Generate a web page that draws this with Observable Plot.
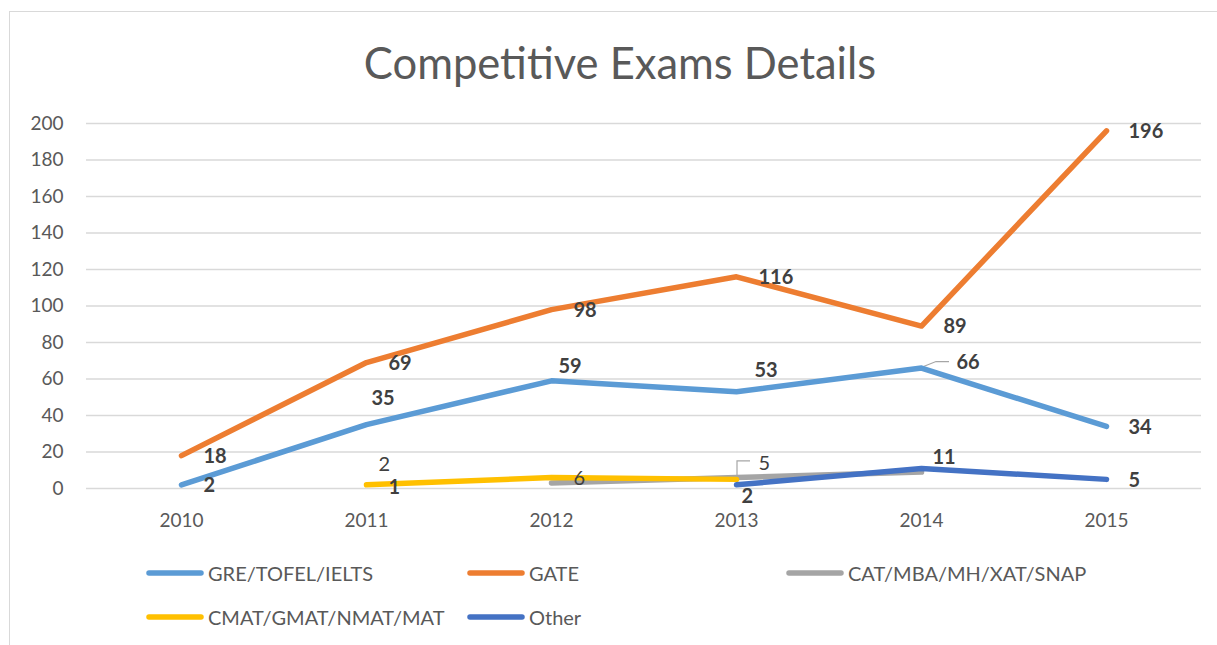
<!DOCTYPE html>
<html><head><meta charset="utf-8">
<script src="https://cdn.jsdelivr.net/npm/d3@7"></script>
<script src="https://cdn.jsdelivr.net/npm/@observablehq/plot@0.6"></script>
<style>
body{margin:0;background:#fff;font-family:Lato,"Open Sans",sans-serif;}
#wrap{position:relative;width:1217px;height:645px;overflow:hidden;background:#fff;}
#frame{position:absolute;left:9px;top:11px;width:1300px;height:700px;border:1.5px solid #d9d9d9;box-sizing:border-box;}
#title{position:absolute;top:35px;left:0;width:1240px;text-align:center;font-size:43.5px;color:#595959;line-height:54px;}
#chart{position:absolute;left:0;top:100px;}
.li{position:absolute;display:flex;align-items:center;font-size:20px;color:#595959;height:24px;white-space:nowrap;}
.li svg{margin-right:4px;}
</style></head><body>
<div id="wrap">
  <div id="frame"></div>
  <div id="title">Competitive Exams Details</div>
  <div id="chart"></div>
  <div id="legend"></div>
</div>
<script>
const years = ["2010", "2011", "2012", "2013", "2014", "2015"];
const seriesNames = ["GRE/TOFEL/IELTS", "GATE", "CAT/MBA/MH/XAT/SNAP", "CMAT/GMAT/NMAT/MAT", "Other"];
const seriesColors = ["#5B9BD5", "#ED7D31", "#A5A5A5", "#FFC000", "#4472C4"];
const greValues = [2, 35, 59, 53, 66, 34];
const gateValues = [18, 69, 98, 116, 89, 196];
const catValues = [null, null, 3, 6, 9, null];
const cmatValues = [null, 2, 6, 5, null, null];
const otherValues = [null, 1, null, 2, 11, 5];
const yTicks = [0, 20, 40, 60, 80, 100, 120, 140, 160, 180, 200];

const valueLists = [greValues, gateValues, catValues, cmatValues, otherValues];
const rows = [];
seriesNames.forEach((s, i) => years.forEach((y, j) => rows.push({series: s, year: y, value: valueLists[i][j]})));

// lines: a lone point between gaps draws nothing (as in the original, no markers)
const lineRows = [];
seriesNames.forEach((s, i) => {
  const v = valueLists[i];
  years.forEach((y, j) => {
    const prev = j > 0 ? v[j - 1] : null, next = j < v.length - 1 ? v[j + 1] : null;
    const lone = v[j] != null && prev == null && next == null;
    lineRows.push({series: s, year: y, value: lone ? null : v[j]});
  });
});

// label styling (layout only)
const labelled = {"GRE/TOFEL/IELTS": 700, "GATE": 700, "CMAT/GMAT/NMAT/MAT": 400, "Other": 700};
const nudge = {
  "GRE/TOFEL/IELTS|2011": [5, -26],
  "GRE/TOFEL/IELTS|2012": [7, -14],
  "GRE/TOFEL/IELTS|2013": [18, -21],
  "GRE/TOFEL/IELTS|2014": [35, -5],
  "CMAT/GMAT/NMAT/MAT|2011": [12, -20],
  "CMAT/GMAT/NMAT/MAT|2013": [22, -16],
  "Other|2013": [5, 12],
  "Other|2014": [11, -11]
};
const leaders = {
  "GRE/TOFEL/IELTS|2014": [[0, 0], [15, -6], [28, -6]],
  "CMAT/GMAT/NMAT/MAT|2013": [[1, 0], [1, -18], [14, -18]]
};

const labelMarks = rows
  .filter(d => d.value != null && labelled[d.series] != null)
  .map(d => {
    const k = d.series + "|" + d.year;
    const [dx, dy] = nudge[k] || [22, 1];
    return Plot.text([d], {
      x: "year", y: "value", text: d => String(d.value),
      textAnchor: "start", dx, dy, fill: "#404040",
      fontWeight: labelled[d.series], fontSize: 20
    });
  });

const leaderRows = rows.filter(d => leaders[d.series + "|" + d.year]);
const leaderMark = Plot.dot(leaderRows, {
  x: "year", y: "value",
  render(index, scales, values, dims, context) {
    const g = d3.create("svg:g");
    index.forEach(i => {
      const d = leaderRows[i];
      const px = scales.x(d.year), py = scales.y(d.value);
      const pts = leaders[d.series + "|" + d.year].map(([a, b]) => [px + a, py + b]);
      g.append("path").attr("d", d3.line()(pts)).attr("fill", "none")
        .attr("stroke", "#a6a6a6").attr("stroke-width", 1.2);
    });
    return g.node();
  }
});

const chart = Plot.plot({
  width: 1217,
  height: 460,
  marginTop: 23,
  marginBottom: 72,
  marginLeft: 86,
  marginRight: 16,
  style: {fontFamily: "Lato, 'Open Sans', sans-serif", fontSize: "19px", color: "#595959", background: "transparent", overflow: "visible"},
  x: {type: "point", domain: years, padding: 0.5},
  y: {domain: [0, 200]},
  color: {domain: seriesNames, range: seriesColors},
  marks: [
    Plot.gridY(yTicks, {stroke: "#d9d9d9", strokeOpacity: 1, strokeWidth: 1.5}),
    Plot.axisY({ticks: yTicks, tickSize: 0, tickPadding: 23, label: null, fill: "#595959"}),
    Plot.axisX({tickSize: 0, tickPadding: 25, label: null, fill: "#595959"}),
    leaderMark,
    Plot.line(lineRows, {x: "year", y: "value", z: "series", stroke: "series",
      strokeWidth: 5.5, strokeLinecap: "round", strokeLinejoin: "round"}),
    ...labelMarks
  ]
});
document.getElementById("chart").appendChild(chart);

// legend
const legendPos = [[146, 561], [467, 561], [786, 561], [146, 605], [467, 605]];
const legend = document.getElementById("legend");
seriesNames.forEach((s, i) => {
  const div = document.createElement("div");
  div.className = "li";
  div.style.left = legendPos[i][0] + "px";
  div.style.top = legendPos[i][1] + "px";
  div.innerHTML = `<svg width="58" height="10"><line x1="3" y1="5" x2="55" y2="5" stroke="${seriesColors[i]}" stroke-width="5.5" stroke-linecap="round"/></svg><span>${s}</span>`;
  legend.appendChild(div);
});
</script>
</body></html>
